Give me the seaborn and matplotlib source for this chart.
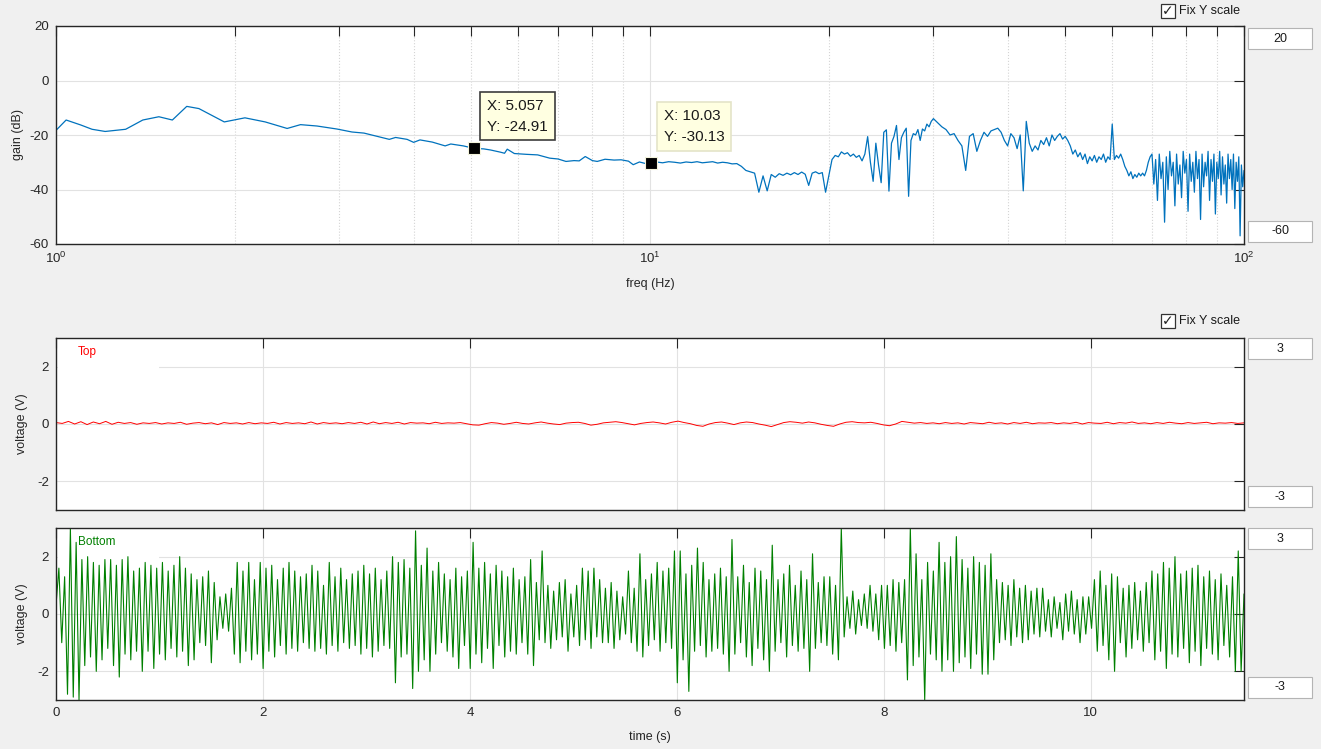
import numpy as np
import pandas as pd
import matplotlib
matplotlib.use("Agg")
import matplotlib.pyplot as plt
import seaborn as sns
from matplotlib.patches import Rectangle
from matplotlib.ticker import NullFormatter

# gain curve below 10 Hz
freq_low = [1.00, 1.04, 1.10, 1.15, 1.21, 1.31, 1.40, 1.49, 1.57, 1.66, 1.74,
            1.92, 2.08, 2.25, 2.45, 2.58, 2.75, 2.97, 3.15, 3.30, 3.46, 3.64,
            3.73, 3.90, 4.00, 4.10, 4.30, 4.52, 4.62, 4.85, 5.057, 5.25, 5.39,
            5.60, 5.69, 5.75, 5.91, 6.20, 6.47, 6.78, 7.00, 7.22, 7.45, 7.60,
            7.78, 8.00, 8.15, 8.40, 8.70, 8.94, 9.20, 9.37, 9.60, 9.80]
gain_low = [-18.3, -14.5, -16.3, -17.9, -18.7, -17.9, -14.5, -13.3, -14.5, -9.5, -10.3,
            -15.2, -13.7, -15.2, -17.6, -16.2, -16.7, -17.8, -18.9, -19.3, -20.4, -21.6,
            -20.9, -21.6, -22.7, -21.8, -22.6, -24.0, -23.3, -24.0, -24.91, -25.1, -25.5,
            -26.3, -26.7, -25.2, -26.8, -27.1, -27.3, -28.5, -28.8, -29.7, -29.4, -29.5,
            -27.9, -29.4, -29.7, -28.9, -29.2, -29.1, -29.6, -30.9, -29.9, -30.4]

# gain from 10 to 29.75 Hz on 0.25 Hz bins
gain_mid = [
    -30.1, -29.9, -30.2, -29.8, -30.0, -30.3, -29.9, -30.1, -29.8, -30.2,
    -30.0, -29.8, -30.3, -30.0, -30.2, -30.6, -30.5, -31.5, -33.0, -33.5,
    -34.0, -41.0, -35.0, -40.5, -34.5, -35.5, -34.2, -34.8, -34.0, -34.6,
    -33.8, -34.5, -33.6, -34.4, -38.5, -34.0, -33.5, -34.2, -33.8, -41.0,
    -35.0, -29.0, -27.5, -28.0, -26.2, -27.0, -26.5, -27.8, -27.0, -28.2,
    -27.5, -29.5, -27.0, -20.6, -30.0, -37.0, -23.0, -31.0, -37.5, -19.0,
    -18.1, -40.6, -23.0, -20.5, -16.5, -29.0, -21.0, -19.0, -17.5, -42.5,
    -22.0, -19.5, -20.0, -18.0, -22.0, -17.8, -18.5, -16.0, -17.0, -15.0]
freq_mid = np.arange(10, 29.76, 0.25)

# gain from 30 to 100 Hz on 0.5 Hz bins
gain_high = [
    -14.0, -15.5, -17.0, -18.0, -20.0, -19.5, -22.0, -24.0, -33.0, -20.5,
    -19.5, -26.0, -22.0, -19.0, -20.5, -18.5, -18.0, -17.5, -19.0, -22.0,
    -24.0, -19.5, -21.0, -25.0, -20.0, -40.5, -15.0, -23.0, -26.0, -24.0,
    -25.5, -22.0, -23.5, -21.0, -24.0, -20.0, -22.0, -20.5, -19.5, -21.5,
    -20.5, -22.0, -24.0, -27.0, -25.5, -28.0, -26.5, -29.0, -27.0, -30.5,
    -28.0, -29.5, -27.5, -30.0, -28.0, -29.0, -27.0, -30.0, -28.0, -29.0,
    -16.0, -29.0, -27.5, -28.5, -27.0, -29.0, -31.5, -33.0, -35.0, -33.5,
    -36.0, -34.5, -35.5, -34.0, -35.0, -34.0, -35.0, -33.0, -30.0, -28.0,
    -27.0, -38.0, -29.0, -44.0, -27.0, -36.0, -30.0, -52.0, -28.0, -40.0,
    -26.0, -35.0, -30.0, -46.0, -27.0, -38.0, -31.0, -43.0, -26.0, -34.0,
    -29.0, -48.0, -27.0, -37.0, -30.0, -41.0, -26.0, -36.0, -29.0, -51.0,
    -27.0, -39.0, -30.0, -35.0, -26.0, -44.0, -29.0, -37.0, -27.0, -49.0,
    -30.0, -36.0, -26.0, -42.0, -28.0, -38.0, -31.0, -45.0, -27.0, -36.0,
    -29.0, -40.0, -27.0, -47.0, -30.0, -37.0, -28.0, -57.0, -31.0, -39.0,
    -33.0]
freq_high = np.arange(30, 100.01, 0.5)

# data tips
tip_freq = [5.057, 10.03]
tip_gain = [-24.91, -30.13]

# voltage traces, sampled evenly over the record
t_end = 11.48
top_volt = [
    0.05, 0.02, 0.09, 0.00, 0.08, -0.02, 0.07, 0.01, 0.09, -0.01, 0.06, 0.02, 0.05, -0.01, 0.04, 0.02,
    0.05, 0.00, 0.04, 0.02, 0.06, -0.01, 0.03, 0.05, 0.01, 0.04, -0.02, 0.05, 0.02, 0.04, 0.00, 0.05,
    0.01, 0.04, 0.02, 0.06, 0.00, 0.05, 0.02, 0.04, 0.01, 0.07, 0.00, 0.05, 0.02, 0.04, 0.01, 0.05,
    0.02, 0.06, 0.00, 0.07, 0.01, 0.05, 0.02, 0.06, 0.00, 0.05, 0.03, 0.04, 0.01, 0.06, 0.02, 0.04,
    0.03, 0.05, 0.01, -0.03, -0.04, 0.01, 0.05, 0.03, -0.01, 0.02, 0.06, 0.02, 0.00, 0.04, 0.07, 0.03,
    0.00, -0.02, 0.03, 0.05, 0.06, 0.02, -0.04, -0.01, 0.04, 0.06, 0.08, 0.05, 0.01, -0.03, 0.02, 0.05,
    0.07, 0.04, 0.00, 0.06, 0.10, 0.05, 0.01, -0.05, -0.08, 0.00, 0.05, 0.07, 0.03, -0.02, 0.04, 0.07,
    0.05, 0.00, -0.04, -0.09, -0.02, 0.05, 0.08, 0.06, 0.03, 0.07, 0.04, -0.01, -0.05, -0.08, 0.00, 0.06,
    0.08, 0.05, 0.04, 0.06, 0.02, -0.03, -0.06, 0.00, 0.09, 0.06, 0.03, 0.05, 0.02, 0.04, 0.01, 0.05,
    0.02, 0.04, 0.00, 0.05, 0.03, 0.01, 0.06, 0.02, 0.04, 0.00, 0.05, 0.02, 0.06, 0.01, 0.04, 0.03,
    0.05, 0.01, 0.04, 0.02, 0.06, 0.00, 0.05, 0.03, 0.02, 0.06, 0.01, 0.05, 0.03, 0.07, 0.02, 0.04,
    0.01, 0.05, 0.02, 0.06, 0.03, 0.01, 0.05, 0.02, 0.04, 0.06, 0.01, 0.04, 0.03, 0.05, 0.02, 0.04]

# one row per half second
bottom_volt = [
    0.3, 1.6, -1.0, 1.3, -2.8, 3.0, -2.9, 2.5, -3.0, 1.9, -1.8, 2.0, -1.5, 1.8, -2.0, 1.7, -1.6, 1.9, -1.2,
    1.9, -1.8, 1.7, -2.2, 1.9, -1.4, 2.0, -1.6, 1.5, -1.3, 1.6, -2.0, 1.8, -1.3, 1.7, -1.9, 1.6,
    -1.4, 1.8, -1.6, 1.5, -1.2, 1.7, -1.5, 2.0, -1.3, 1.6, -1.8, 1.4, -1.6, 1.2, -1.0, 1.3, -1.1, 1.5, -1.7,
    1.1, -0.9, 0.6, -0.5, 0.7, -0.6, 0.9, -1.4, 1.8, -1.7, 1.5, -1.3, 1.8, -1.6, 1.2, -1.4, 1.8,
    -1.9, 1.6, -1.3, 1.7, -1.5, 1.2, -1.1, 1.6, -1.4, 1.8, -1.2, 1.5, -1.3, 1.3, -1.0, 1.4, -1.2, 1.7, -1.3,
    1.5, -1.2, 1.0, -1.4, 1.8, -1.1, 1.3, -1.3, 1.6, -1.0, 1.2, -1.2, 1.4, -1.1, 1.5, -1.4, 1.7,
    -1.2, 1.4, -1.5, 1.6, -1.3, 1.2, -1.1, 1.5, -1.2, 2.0, -2.4, 1.8, -1.5, 1.9, -1.4, 1.6, -2.6, 2.9, -2.0,
    1.7, -1.6, 2.3, -2.0, 1.5, -1.4, 1.8, -1.0, 1.4, -1.3, 1.2, -1.5, 1.6, -1.9, 1.3, -1.1, 1.5,
    -1.9, 2.5, -1.4, 1.6, -1.7, 1.8, -1.2, 1.4, -1.9, 1.7, -1.1, 1.5, -1.5, 1.3, -1.3, 1.6, -1.4, 1.2, -1.0,
    1.3, -1.4, 1.9, -1.8, 1.1, -0.9, 2.2, -1.0, 1.0, -1.2, 0.8, -0.9, 1.1, -0.8, 1.2, -1.3, 0.7,
    -0.8, 1.0, -1.1, 1.6, -0.9, 1.5, -1.2, 1.6, -0.8, 1.2, -1.0, 0.9, -1.0, 1.1, -1.2, 0.8, -0.9, 0.6, -0.7,
    1.5, -1.0, 0.9, -1.3, 2.1, -1.5, 1.2, -1.1, 1.4, -0.9, 1.8, -1.3, 1.5, -1.0, 1.6, -1.2, 2.2,
    -2.4, 2.2, -1.6, 1.4, -2.7, 1.7, -1.3, 2.3, -1.1, 1.8, -1.5, 1.2, -1.3, 1.4, -1.2, 1.6, -1.4, 1.3, -2.0,
    2.6, -1.4, 1.3, -1.0, 1.7, -1.5, 1.1, -1.8, 1.6, -1.2, 1.5, -1.6, 1.2, -2.0, 2.4, -1.3, 1.2,
    -1.0, 1.4, -1.5, 1.7, -1.1, 1.0, -1.3, 1.5, -1.2, 1.2, -2.0, 2.1, -1.2, 1.1, -1.0, 1.3, -1.1, 1.3, -1.4,
    1.0, -1.6, 3.0, -0.8, 0.6, -0.5, 0.8, -0.7, 0.5, -0.4, 0.7, -0.5, 1.0, -0.6, 0.7, -0.9, 1.0,
    -1.2, 1.0, -1.1, 1.2, -1.3, 1.1, -1.0, 1.2, -2.3, 3.0, -1.8, 2.1, -1.5, 1.2, -3.0, 1.8, -1.4, 1.5, -1.6,
    2.5, -2.0, 1.8, -1.6, 2.0, -2.0, 2.7, -1.7, 1.9, -1.5, 1.6, -1.9, 2.0, -1.4, 1.8, -2.1, 1.7,
    -2.1, 2.1, -1.6, 1.2, -1.0, 1.1, -0.9, 1.0, -1.1, 1.2, -0.8, 0.9, -1.0, 1.0, -0.9, 0.8, -0.7, 0.9, -0.8,
    0.9, -0.6, 0.5, -0.8, 0.6, -0.5, 0.4, -0.9, 0.7, -0.6, 0.8, -0.7, 0.5, -1.0, 0.6, -0.7, 0.6,
    -0.5, 1.2, -1.3, 1.5, -1.1, 1.0, -1.6, 1.4, -2.0, 1.3, -1.0, 0.9, -1.5, 1.0, -1.2, 1.1, -0.9, 0.8, -1.3,
    1.1, -1.0, 1.5, -1.6, 1.4, -1.3, 1.8, -1.9, 1.6, -1.4, 2.0, -1.5, 1.4, -1.2, 1.5, -1.7, 1.6,
    -1.3, 1.7, -1.8, 1.3, -1.2, 1.5, -1.4, 1.2, -1.6, 1.4, -1.1, 1.0, -1.5, 1.3, -2.0, 2.2, -2.0, 0.7]

W, H = 1321, 749
BG = '#f0f0f0'

sns.set_theme(style="white")
plt.rcParams['font.family'] = ['Liberation Sans', 'DejaVu Sans']
plt.rcParams['axes.unicode_minus'] = False


def fx(x):
    return x / W


def fy(y):
    return 1 - y / H


def style_axes(ax):
    ax.set_facecolor('white')
    for s in ax.spines.values():
        s.set_color('#262626')
        s.set_linewidth(1.0)
    ax.tick_params(which='both', direction='in', length=7.5, width=0.8,
                   top=True, right=True, colors='#262626', labelsize=9.5,
                   labelcolor='#262626', pad=5)
    ax.set_axisbelow(True)


def value_box(x0, y0, txt):
    fig.patches.append(Rectangle((fx(x0), fy(y0 + 21)), 64 / W, 21 / H,
                                 transform=fig.transFigure, facecolor='white',
                                 edgecolor='#b4b4b4', linewidth=0.8))
    fig.text(fx(x0 + 32), fy(y0 + 10.5), txt, ha='center', va='center',
             fontsize=9, color='#1a1a1a')


def checkbox(y0):
    fig.patches.append(Rectangle((fx(1161), fy(y0 + 14)), 14 / W, 14 / H,
                                 transform=fig.transFigure, facecolor='white',
                                 edgecolor='#333333', linewidth=0.9))
    fig.text(fx(1168), fy(y0 + 7), '\u2713', ha='center', va='center',
             fontsize=10, family='DejaVu Sans', color='#222222')
    fig.text(fx(1179), fy(y0 + 7), 'Fix Y scale', ha='left', va='center',
             fontsize=9, color='#1a1a1a')


fig = plt.figure(figsize=(W / 100, H / 100), dpi=100, facecolor=BG)
ax1 = fig.add_axes([fx(56), fy(244), (1244 - 56) / W, (244 - 26) / H])
ax2 = fig.add_axes([fx(56), fy(510), (1244 - 56) / W, 172 / H])
ax3 = fig.add_axes([fx(56), fy(700), (1244 - 56) / W, 172 / H])

# --- gain plot
gain_df = pd.DataFrame({'freq': freq_low + list(freq_mid) + list(freq_high),
                        'gain': gain_low + gain_mid + gain_high})
sns.lineplot(data=gain_df, x='freq', y='gain', ax=ax1, color='#0072bd',
             linewidth=0.9, estimator=None, sort=False)
ax1.set_xscale('log')
ax1.set_xlim(1, 100)
ax1.set_ylim(-60, 20)
ax1.set_yticks([-60, -40, -20, 0, 20])
ax1.xaxis.set_minor_formatter(NullFormatter())
style_axes(ax1)
ax1.grid(True, which='major', color='#e2e2e2', linewidth=0.8)
ax1.grid(True, which='minor', axis='x', color='#d4d4d4', linestyle=':', linewidth=0.8)
ax1.set_xlabel('freq (Hz)', fontsize=9, color='#262626')
ax1.set_ylabel('gain (dB)', fontsize=9, color='#262626')
ax1.xaxis.set_label_coords(0.5, -0.155)
ax1.yaxis.set_label_coords(-0.027, 0.5)

ax1.plot(tip_freq, tip_gain, 's', ms=8, mfc='black', mec='#f4f4dc', mew=0.8, zorder=6)
tip_edges = ['#3c3c3c', '#e4e4c8']
tip_offsets = [(9.3, 10.7), (9.3, 13.6)]
for f, g, ec, off in zip(tip_freq, tip_gain, tip_edges, tip_offsets):
    ax1.annotate('X: %s\nY: %s' % (f, g), xy=(f, g), xytext=off,
                 textcoords='offset points', ha='left', va='bottom',
                 fontsize=11, color='#1a1a1a', linespacing=1.6, zorder=7,
                 bbox=dict(boxstyle='square,pad=0.45', fc='#ffffe1', ec=ec, lw=1.2))

# --- voltage plots
time_top = np.linspace(0, t_end, len(top_volt))
time_bot = np.linspace(0, t_end, len(bottom_volt))
sns.lineplot(x=time_top, y=top_volt, ax=ax2, color='#ff0000', linewidth=0.7,
             estimator=None, sort=False)
sns.lineplot(x=time_bot, y=bottom_volt, ax=ax3, color='#008000', linewidth=0.8,
             estimator=None, sort=False)

for ax, name, col in [(ax2, 'Top', '#ff0000'), (ax3, 'Bottom', '#008000')]:
    ax.set_xlim(0, t_end)
    ax.set_ylim(-3, 3)
    ax.set_yticks([-2, 0, 2])
    ax.set_xticks([0, 2, 4, 6, 8, 10])
    style_axes(ax)
    ax.grid(True, color='#e2e2e2', linewidth=0.8)
    ax.set_ylabel('voltage (V)', fontsize=9, color='#262626')
    ax.yaxis.set_label_coords(-0.0235, 0.5)
    ax.add_patch(Rectangle((0.002, 0.80), 0.085, 0.195, transform=ax.transAxes,
                           facecolor='white', edgecolor='none', zorder=1.5))
    ax.text(0.0185, 0.92, name, transform=ax.transAxes, ha='left', va='center',
            fontsize=8.5, color=col, zorder=4)

ax2.set_xticklabels([])
ax2.set_xlabel('')
ax3.set_xlabel('time (s)', fontsize=9, color='#262626')
ax3.xaxis.set_label_coords(0.5, -0.18)

# --- controls beside the axes
checkbox(4)
checkbox(314)
value_box(1248, 28, '20')
value_box(1248, 221, '-60')
value_box(1248, 338, '3')
value_box(1248, 486, '-3')
value_box(1248, 528, '3')
value_box(1248, 677, '-3')

fig.savefig('out.png', dpi=100, facecolor=BG)
